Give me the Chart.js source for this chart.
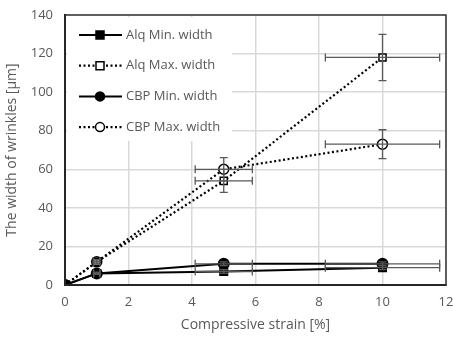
<!DOCTYPE html>
<html>
<head>
<meta charset="utf-8">
<script src="https://cdn.jsdelivr.net/npm/chart.js@4/dist/chart.umd.min.js"></script>
<style>
  html, body { margin: 0; padding: 0; background: #fff; }
  #wrap { width: 453px; height: 337px; }
</style>
</head>
<body>
<div id="wrap"><canvas id="wrinkleChart" width="453" height="337"></canvas></div>
<script>
// Data
const strain = [0, 1, 5, 10];
const strainErr = [0, 0.1, 0.9, 1.8];

const alqMin = [0, 6, 7, 9];
const alqMinErr = [0, 0.5, 1, 1];
const alqMax = [0, 12, 54, 118];
const alqMaxErr = [0, 1, 6, 12];
const cbpMin = [0, 6, 11, 11];
const cbpMinErr = [0, 0.5, 1, 1];
const cbpMax = [0, 12, 60, 73];
const cbpMaxErr = [0, 1, 6, 7.5];

const xTicks = [0, 2, 4, 6, 8, 10, 12];
const yTicks = [0, 20, 40, 60, 80, 100, 120, 140];

const FONT = "'Open Sans', 'Noto Sans', sans-serif";
const TEXT = "#595959";

function toPoints(ys) {
  return strain.map((x, i) => ({ x: x, y: ys[i] }));
}

// Error bars drawn through the chart scales
const errorBars = {
  id: "errorBars",
  afterDatasetsDraw(chart) {
    const { ctx, scales } = chart;
    const xs = scales.x, ys = scales.y;
    ctx.save();
    ctx.strokeStyle = "#595959";
    ctx.lineWidth = 1.3;
    chart.data.datasets.forEach((ds) => {
      ds.data.forEach((p, i) => {
        const dx = ds.xErr[i], dy = ds.yErr[i];
        const px = xs.getPixelForValue(p.x), py = ys.getPixelForValue(p.y);
        const cap = 4;
        if (dx > 0) {
          const x1 = xs.getPixelForValue(p.x - dx), x2 = xs.getPixelForValue(p.x + dx);
          ctx.beginPath();
          ctx.moveTo(x1, py); ctx.lineTo(x2, py);
          ctx.moveTo(x1, py - cap); ctx.lineTo(x1, py + cap);
          ctx.moveTo(x2, py - cap); ctx.lineTo(x2, py + cap);
          ctx.stroke();
        }
        if (dy > 0) {
          const y1 = ys.getPixelForValue(p.y - dy), y2 = ys.getPixelForValue(p.y + dy);
          ctx.beginPath();
          ctx.moveTo(px, y1); ctx.lineTo(px, y2);
          ctx.moveTo(px - cap, y1); ctx.lineTo(px + cap, y1);
          ctx.moveTo(px - cap, y2); ctx.lineTo(px + cap, y2);
          ctx.stroke();
        }
      });
    });
    ctx.restore();
  },
};

// Legend box inside plot, drawn over the grid
const insideLegend = {
  id: "insideLegend",
  beforeDatasetsDraw(chart) {
    const { ctx, chartArea } = chart;
    const left = chartArea.left + 2, top = chartArea.top + 2;
    ctx.save();
    ctx.fillStyle = "#fff";
    ctx.fillRect(left, top, 165, 124);
    ctx.restore();
  },
  afterDraw(chart) {
    const { ctx, chartArea } = chart;
    const x0 = chartArea.left + 14;
    ctx.save();
    chart.data.datasets.forEach((ds, i) => {
      const y = chartArea.top + 20 + i * 30.7;
      ctx.strokeStyle = "#000";
      ctx.lineWidth = ds.borderWidth;
      ctx.setLineDash(ds.borderDash || []);
      ctx.beginPath();
      ctx.moveTo(x0, y); ctx.lineTo(x0 + 43, y);
      ctx.stroke();
      ctx.setLineDash([]);
      const mx = x0 + 21;
      ctx.fillStyle = ds.pointBackgroundColor;
      ctx.lineWidth = 1.5;
      ctx.beginPath();
      if (ds.pointStyle === "rect") {
        ctx.rect(mx - 4, y - 4, 8, 8);
      } else {
        ctx.arc(mx, y, 4.5, 0, Math.PI * 2);
      }
      ctx.fill();
      ctx.stroke();
      ctx.fillStyle = TEXT;
      ctx.font = "13px " + FONT;
      ctx.textBaseline = "middle";
      ctx.fillText(ds.label, x0 + 47, y);
    });
    ctx.restore();
  },
};

const ctx = document.getElementById("wrinkleChart").getContext("2d");

new Chart(ctx, {
  type: "scatter",
  data: {
    datasets: [
      {
        label: "Alq Min. width",
        data: toPoints(alqMin),
        xErr: strainErr, yErr: alqMinErr,
        showLine: true,
        borderColor: "#000",
        borderWidth: 2,
        pointStyle: "rect",
        pointRadius: 5,
        pointBackgroundColor: "#000",
        pointBorderColor: "#000",
      },
      {
        label: "Alq Max. width",
        data: toPoints(alqMax),
        xErr: strainErr, yErr: alqMaxErr,
        showLine: true,
        borderColor: "#000",
        borderWidth: 2.2,
        borderDash: [2, 2.5],
        pointStyle: "rect",
        pointRadius: 5,
        pointBorderWidth: 1.5,
        pointBackgroundColor: "#fff",
        pointBorderColor: "#000",
      },
      {
        label: "CBP Min. width",
        data: toPoints(cbpMin),
        xErr: strainErr, yErr: cbpMinErr,
        showLine: true,
        borderColor: "#000",
        borderWidth: 2,
        pointStyle: "circle",
        pointRadius: 5,
        pointBackgroundColor: "#000",
        pointBorderColor: "#000",
      },
      {
        label: "CBP Max. width",
        data: toPoints(cbpMax),
        xErr: strainErr, yErr: cbpMaxErr,
        showLine: true,
        borderColor: "#000",
        borderWidth: 2.2,
        borderDash: [2, 2.5],
        pointStyle: "circle",
        pointRadius: 5,
        pointBorderWidth: 1.5,
        pointBackgroundColor: "#fff",
        pointBorderColor: "#000",
      },
    ],
  },
  options: {
    responsive: false,
    animation: false,
    layout: { padding: { top: 15, right: 6, left: 0, bottom: 0 } },
    plugins: {
      legend: { display: false },
      tooltip: { enabled: false },
    },
    scales: {
      x: {
        type: "linear",
        min: 0,
        max: 12,
        afterBuildTicks: (scale) => { scale.ticks = xTicks.map((v) => ({ value: v })); },
        afterFit: (scale) => { scale.height = 52; scale.paddingRight = 0; scale.paddingLeft = 0; },
        grid: { color: "#d9d9d9", lineWidth: 1.5, drawTicks: false },
        border: { color: "#000", width: 2 },
        ticks: { color: TEXT, font: { family: FONT, size: 13 }, padding: 9 },
        title: {
          display: true,
          text: "Compressive strain [%]",
          color: TEXT,
          font: { family: FONT, size: 14 },
          padding: { top: 2 },
        },
      },
      y: {
        type: "linear",
        min: 0,
        max: 140,
        afterBuildTicks: (scale) => { scale.ticks = yTicks.map((v) => ({ value: v })); },
        afterFit: (scale) => { scale.width = 65; scale.paddingTop = 0; scale.paddingBottom = 0; },
        grid: { color: "#d9d9d9", lineWidth: 1.5, drawTicks: false },
        border: { color: "#000", width: 2 },
        ticks: { color: TEXT, font: { family: FONT, size: 13 }, padding: 12 },
        title: {
          display: true,
          text: "The width of wrinkles [µm]",
          color: TEXT,
          font: { family: FONT, size: 14 },
          padding: { bottom: 2 },
        },
      },
    },
  },
  plugins: [
    insideLegend,
    errorBars,
    {
      id: "frame",
      afterDraw(chart) {
        const { ctx, chartArea: a } = chart;
        ctx.save();
        ctx.strokeStyle = "#333";
        ctx.lineWidth = 1.5;
        ctx.strokeRect(a.left, a.top, a.right - a.left, a.bottom - a.top);
        ctx.restore();
      },
    },
  ],
});
</script>
</body>
</html>
